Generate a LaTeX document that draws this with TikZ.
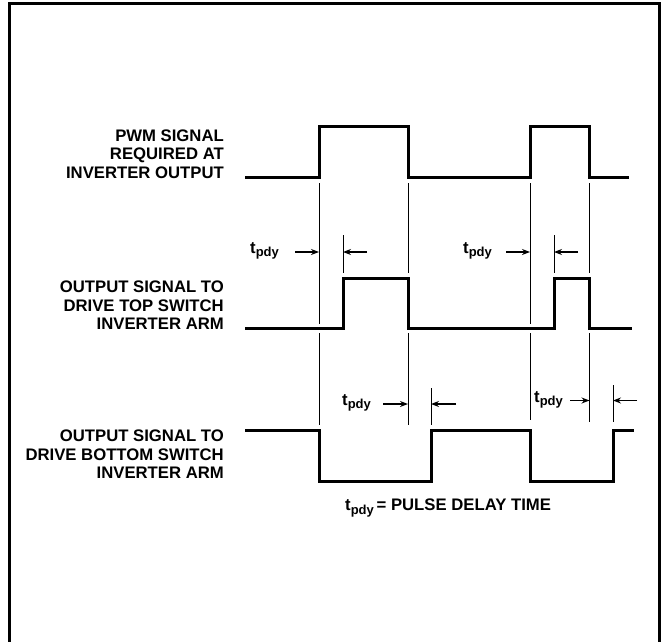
\documentclass[tikz,border=0pt]{standalone}
\usepackage{fontspec}
\setmainfont{Liberation Sans}
\usetikzlibrary{arrows.meta}
\newcommand{\tpdy}{{\fontsize{16.7}{18.5}\selectfont t}\raisebox{-3.5pt}{\fontsize{13}{13}\selectfont pdy}}
\begin{document}
\begin{tikzpicture}[x=1pt,y=-1pt,
  wave/.style={line width=3pt,line join=miter},
  guide/.style={line width=1pt},
  dim/.style={line width=1.3pt,-{Stealth[length=8pt,width=6pt]}},
  lbl/.style={font=\bfseries\fontsize{16.7}{18.5}\selectfont,align=right,inner sep=0pt,anchor=east},
  tlbl/.style={font=\bfseries,inner sep=0pt}]
\useasboundingbox (0,0) rectangle (661,642);
% frame (open at bottom)
\draw[line width=3.5pt] (9.5,645) -- (9.5,3.7) -- (660,3.7) -- (660,645);
% labels
\node[lbl] (l1) at (224,154) {PWM SIGNAL\\REQUIRED AT\\INVERTER OUTPUT};
\node[lbl] (l2) at (224,305.5) {OUTPUT SIGNAL TO\\DRIVE TOP SWITCH\\INVERTER ARM};
\node[lbl] (l3) at (224,454.5) {OUTPUT SIGNAL TO\\DRIVE BOTTOM SWITCH\\INVERTER ARM};
% waveforms
\draw[wave] (245,177) -- (319,177) -- (319,126) -- (408,126) -- (408,177) -- (530,177) -- (530,126) -- (589.5,126) -- (589.5,177) -- (629,177);
\draw[wave] (245,328) -- (343,328) -- (343,278) -- (408,278) -- (408,328) -- (554,328) -- (554,278) -- (589.5,278) -- (589.5,328) -- (632,328);
\draw[wave] (245,430.5) -- (319,430.5) -- (319,481.5) -- (431,481.5) -- (431,430.5) -- (530,430.5) -- (530,481.5) -- (613,481.5) -- (613,430.5) -- (634,430.5);
% guide lines
\draw[guide] (319,183) -- (319,324) (319,333) -- (319,425);
\draw[guide] (408,183) -- (408,273) (408,333) -- (408,425);
\draw[guide] (343,235) -- (343,273);
\draw[guide] (530,183) -- (530,324) (530,333) -- (530,420);
\draw[guide] (554,235) -- (554,273);
\draw[guide] (589.5,183) -- (589.5,273) (589.5,333) -- (589.5,422);
\draw[guide] (431,388) -- (431,425);
\draw[guide] (613,385) -- (613,422);
% t_pdy labels and arrows
\node[tlbl,anchor=west] (t1) at (250,251) {\tpdy};
\draw[dim] (295,252) -- (319,252);
\draw[dim] (367,252) -- (343,252);
\node[tlbl,anchor=west] (t2) at (463,251) {\tpdy};
\draw[dim] (506,252) -- (530,252);
\draw[dim] (578,252) -- (554,252);
\node[tlbl,anchor=west] (t3) at (342,403) {\tpdy};
\draw[dim] (383,404) -- (408,404);
\draw[dim] (456,404) -- (431,404);
\node[tlbl,anchor=west] (t4) at (534,400) {\tpdy};
\draw[dim] (570,400.5) -- (589.5,400.5);
\draw[dim] (637,400.5) -- (613,400.5);
% caption
\node[tlbl,anchor=west] (cap) at (345,508) {\tpdy\ {\fontsize{16.7}{18.5}\selectfont = PULSE DELAY TIME}};
\end{tikzpicture}
\end{document}
